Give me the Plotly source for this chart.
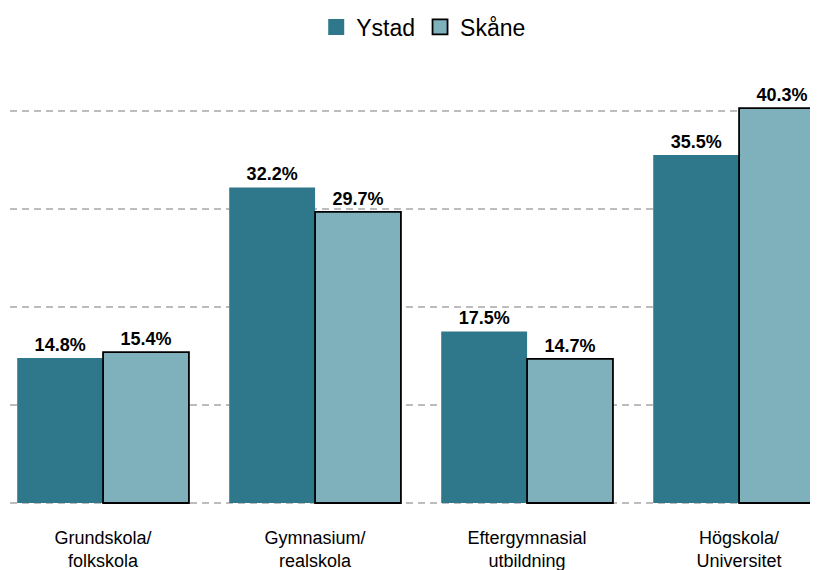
import plotly.graph_objects as go

categories = ["Grundskola/<br>folkskola", "Gymnasium/<br>realskola", "Eftergymnasial<br>utbildning", "Högskola/<br>Universitet"]
ystad = [14.8, 32.2, 17.5, 35.5]
skane = [15.4, 29.7, 14.7, 40.3]
series_names = ["Ystad", "Skåne"]
series_colors = ["#2f788b", "#7fb1bc"]

label_font = dict(family="Liberation Sans, Arial", size=18, color="black", weight="bold")

fig = go.Figure()
fig.add_trace(go.Bar(
    name=series_names[0], x=categories, y=ystad, showlegend=False,
    marker=dict(color=series_colors[0], line=dict(width=0)),
    text=[f"{v:.1f}%" for v in ystad], textposition="outside",
    textfont=label_font, cliponaxis=False,
))
fig.add_trace(go.Bar(
    name=series_names[1], x=categories, y=skane, showlegend=False,
    marker=dict(color=series_colors[1], line=dict(width=1.8, color="black")),
    text=[f"{v:.1f}%" for v in skane], textposition="outside",
    textfont=label_font, cliponaxis=False,
))
# legend entries with larger square swatches
fig.add_trace(go.Scatter(
    name=series_names[0], x=[None], y=[None], mode="markers",
    marker=dict(symbol="square", size=16, color=series_colors[0], line=dict(width=0)),
))
fig.add_trace(go.Scatter(
    name=series_names[1], x=[None], y=[None], mode="markers",
    marker=dict(symbol="square", size=15, color=series_colors[1], line=dict(width=1.8, color="black")),
))

fig.update_layout(
    width=818, height=570,
    margin=dict(l=2, r=0, t=57, b=73, autoexpand=False),
    barmode="group", bargap=0.19, bargroupgap=0,
    plot_bgcolor="white", paper_bgcolor="white",
    font=dict(family="Liberation Sans, Arial", color="black"),
    showlegend=True,
    legend=dict(orientation="h", x=0.507, xanchor="center", y=0.9667, yanchor="middle",
                yref="container", font=dict(size=23), traceorder="normal",
                itemsizing="trace"),
)
fig.update_xaxes(range=[-0.439, 3.410], showgrid=False, showline=False, ticks="",
                 tickfont=dict(size=18), type="category", automargin=False,
                 ticklabelstandoff=20)
fig.update_yaxes(range=[-0.204, 44.69], showgrid=True, gridcolor="#bdbdbd", griddash="7px,5px",
                 gridwidth=1.5, dtick=10, tick0=0, showticklabels=False, zeroline=False,
                 showline=False, automargin=False)

fig.write_html("out.html")
